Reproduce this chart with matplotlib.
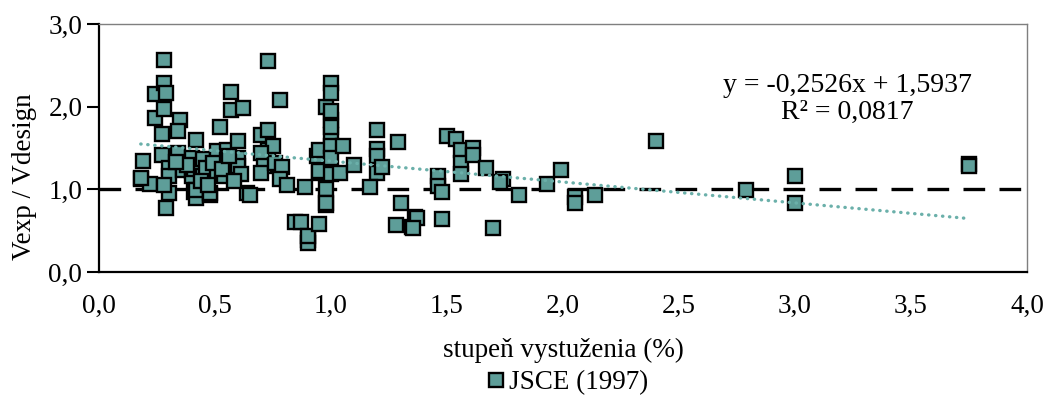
import numpy as np
import matplotlib
matplotlib.use("Agg")
import matplotlib.pyplot as plt
from matplotlib.ticker import FuncFormatter

plt.rcParams["font.family"] = ["Liberation Serif", "DejaVu Serif"]

# stupeň vystuženia (%) a pomer Vexp / Vdesign - odčítané z grafu
reinf_ratio = [
    0.18, 0.19, 0.22, 0.18,
    0.24, 0.24,
    0.28, 0.28, 0.29, 0.28, 0.27, 0.27, 0.30, 0.30, 0.30, 0.29, 0.28,
    0.35, 0.34, 0.34, 0.36,
    0.42, 0.40, 0.40, 0.40, 0.41, 0.42, 0.41, 0.42,
    0.45, 0.45, 0.46, 0.48, 0.48,
    0.52, 0.51, 0.51, 0.55, 0.54,
    0.57, 0.57, 0.62, 0.60, 0.60, 0.60, 0.61, 0.64, 0.65,
    0.73, 0.70, 0.73, 0.73, 0.75, 0.70, 0.71, 0.70, 0.76,
    0.78, 0.79, 0.78, 0.81,
    0.845, 0.87, 0.89, 0.90, 0.90, 0.90,
    0.94, 0.95, 0.95, 0.95, 0.95,
    1.00, 0.98, 1.00, 1.00, 1.00, 1.00, 1.00, 1.00, 0.98, 0.98, 0.98, 1.00, 1.00,
    1.05, 1.04, 1.10,
    1.20, 1.20, 1.20, 1.17, 1.20, 1.22,
    1.29, 1.30, 1.28, 1.35, 1.36, 1.37, 1.355,
    1.50, 1.46, 1.46, 1.48, 1.48,
    1.54, 1.56, 1.61, 1.56, 1.56, 1.61,
    1.67, 1.74, 1.73, 1.81, 1.70,
    1.93, 1.99, 2.05, 2.05, 2.14,
    2.40, 2.79, 3.00, 3.00, 3.75, 3.75,
    0.38, 0.44, 0.49, 0.53, 0.58, 0.33, 0.47, 0.56,
]
v_ratio = [
    1.12, 1.34, 1.07, 1.14,
    2.15, 1.86,
    2.56, 2.29, 2.16, 1.97, 1.67, 1.42, 1.26, 1.16, 0.96, 0.78, 1.05,
    1.84, 1.71, 1.44, 1.23,
    1.60, 1.38, 1.22, 1.16, 0.97, 0.89, 1.24, 0.99,
    1.37, 1.16, 1.26, 0.93, 0.95,
    1.75, 1.46, 1.20, 1.48, 1.16,
    2.18, 1.96, 1.98, 1.59, 1.38, 1.28, 1.18, 0.95, 0.93,
    2.55, 1.66, 1.72, 1.48, 1.52, 1.44, 1.28, 1.20, 1.32,
    2.08, 1.27, 1.12, 1.05,
    0.60, 0.60, 1.03, 0.39, 0.35, 0.43,
    1.40, 1.48, 1.20, 0.58, 1.22,
    2.29, 2.00, 2.16, 1.84, 1.66, 1.53, 1.38, 1.18, 1.01, 0.81, 0.83, 1.95, 1.75,
    1.52, 1.20, 1.30,
    1.72, 1.49, 1.20, 1.03, 1.40, 1.27,
    1.57, 0.84, 0.57, 0.54, 0.67, 0.65, 0.53,
    1.64, 1.16, 1.04, 0.97, 0.64,
    1.61, 1.48, 1.50, 1.32, 1.19, 1.41,
    1.26, 1.12, 1.09, 0.93, 0.53,
    1.06, 1.23, 0.91, 0.83, 0.93,
    1.58, 0.99, 1.16, 0.83, 1.31, 1.28,
    1.30, 1.10, 1.32, 1.25, 1.10, 1.33, 1.05, 1.40,
]

# lineárny trend (podľa rovnice v grafe)
trend_slope = -0.2526
trend_intercept = 1.5937
trend_label = "y = -0,2526x + 1,5937\nR² = 0,0817"
series_label = "JSCE (1997)"

FILL = "#5E9E99"
TREND = "#6BB0AA"
FS = 19.5

fig = plt.figure(figsize=(10.51, 4.01), dpi=100)
ax = fig.add_axes([99 / 1051, 1 - 272 / 401, 928 / 1051, 248 / 401])

# referenčná čiara Vexp / Vdesign = 1
ax.plot([0, 4], [1, 1], color="black", lw=2.4, dashes=(6.5, 4.3), zorder=1)

ax.plot(reinf_ratio, v_ratio, "s", ms=10.5, mfc=FILL, mec="black", mew=1.7,
        ls="none", label=series_label, zorder=3)

xt = np.linspace(min(reinf_ratio), max(reinf_ratio), 50)
ax.plot(xt, trend_slope * xt + trend_intercept, color=TREND, lw=2.4,
        ls=(0, (0.1, 2.0)), dash_capstyle="round", zorder=4)

ax.text((847 - 99) / 928, (272 - 99) / 248, trend_label, transform=ax.transAxes,
        ha="center", va="center", fontsize=20, linespacing=1.1)

ax.set_xlim(0, 4)
ax.set_ylim(0, 3)
ax.set_xticks(np.arange(0, 4.01, 0.5))
ax.set_yticks([0, 1, 2, 3])
comma = FuncFormatter(lambda v, p: f"{v:.1f}".replace(".", ","))
ax.xaxis.set_major_formatter(comma)
ax.yaxis.set_major_formatter(comma)
ax.tick_params(axis="x", length=0, pad=16, labelsize=FS)
ax.tick_params(axis="y", length=9, width=1.5, direction="out", pad=3,
               labelsize=FS)

for s in ("left", "bottom"):
    ax.spines[s].set_linewidth(1.6)
    ax.spines[s].set_color("black")
for s in ("top", "right"):
    ax.spines[s].set_linewidth(1.0)
    ax.spines[s].set_color("#7F7F7F")

ax.set_xlabel("stupeň vystuženia (%)", fontsize=FS)
ax.xaxis.set_label_coords(0.5, -(350 - 272) / 248)
ax.xaxis.label.set_va("center")
ax.set_ylabel("Vexp / Vdesign", fontsize=FS)
ax.yaxis.set_label_coords((25 - 99) / 928, (272 - 177) / 248)
ax.yaxis.label.set_va("center")

fig.legend(loc="center", bbox_to_anchor=(566 / 1051, 1 - 383 / 401),
           frameon=False, fontsize=FS, handletextpad=0.05, markerscale=1.0,
           handlelength=0.9, borderpad=0)

fig.savefig("out.png", dpi=100)
plt.close(fig)
